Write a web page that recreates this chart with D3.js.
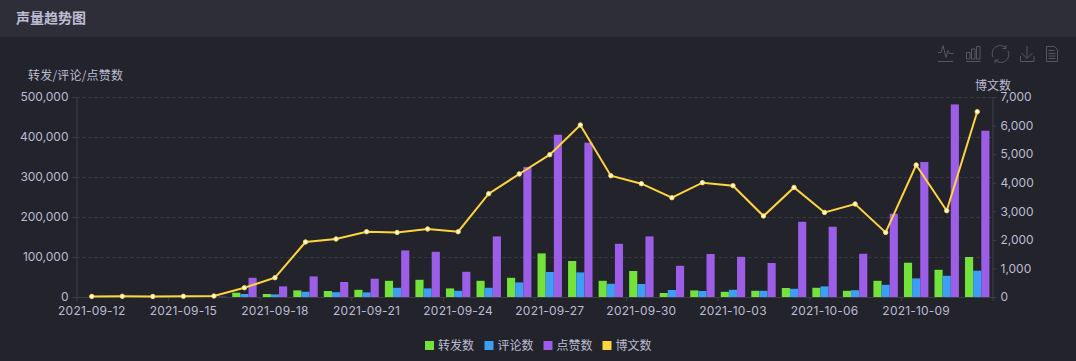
<!DOCTYPE html>
<html>
<head>
<meta charset="utf-8">
<script src="https://cdnjs.cloudflare.com/ajax/libs/d3/7.8.5/d3.min.js"></script>
<style>
html, body { margin: 0; padding: 0; background: #22232b; overflow: hidden; }
text { font-family: Inter, "Noto Sans CJK SC", sans-serif; fill: #bdbcd2; font-size: 12px; }
.cjk { font-family: "Noto Sans CJK SC", sans-serif; }
</style>
</head>
<body>
<svg id="chart" width="1076" height="361"></svg>
<script>
var days = ['2021-09-12','2021-09-13','2021-09-14','2021-09-15','2021-09-16','2021-09-17','2021-09-18','2021-09-19','2021-09-20','2021-09-21',
  '2021-09-22','2021-09-23','2021-09-24','2021-09-25','2021-09-26','2021-09-27','2021-09-28','2021-09-29','2021-09-30','2021-10-01',
  '2021-10-02','2021-10-03','2021-10-04','2021-10-05','2021-10-06','2021-10-07','2021-10-08','2021-10-09','2021-10-10','2021-10-11'];
var reposts = [0,0,0,0,300,10750,7500,16500,15000,18000,40500,43000,21500,40500,48000,109000,90000,40500,65000,10000,16500,13000,15500,22500,23000,15500,40500,85700,68000,100000];
var comments = [0,0,0,0,200,7500,6500,13000,12000,11500,23000,21500,15500,23000,36500,62500,61500,33000,32500,17500,15000,18000,15500,20500,26500,17000,30500,46500,53000,65700];
var likes = [0,0,0,0,800,48000,26500,51500,37500,45700,116500,113000,63000,151500,325000,405700,385700,133000,151500,78000,107500,100500,85000,188000,175700,108000,208000,337500,481500,415700];
var posts = [20,25,20,25,35,325,675,1925,2030,2285,2260,2380,2285,3615,4305,4980,6020,4245,3965,3475,4000,3895,2835,3835,2960,3255,2260,4620,3020,6485];
var leftTicks = [0,100000,200000,300000,400000,500000];
var rightTicks = [0,1000,2000,3000,4000,5000,6000,7000];
var seriesNames = ['转发数','评论数','点赞数','博文数'];
var seriesColors = ['#73e23a','#3c9ff5','#9c5ee6','#ffd53d'];

var left = 76.5, right = 992.5, top_ = 97, bottom = 297;
var axisColor = '#3d3e46';
var svg = d3.select('#chart');

// header bar
svg.append('rect').attr('width', 1076).attr('height', 37).attr('fill', '#2d2e37');
svg.append('text').attr('class', 'cjk').attr('x', 16).attr('y', 23)
  .style('font-size', '14px').style('font-weight', 700).text('声量趋势图');

var x = d3.scaleBand().domain(days).range([left, right]).paddingInner(0.2).paddingOuter(0.1);
var xTick = d3.scaleLinear().domain([0, days.length]).range([left, right]);
var xSeries = d3.scaleBand().domain(seriesNames.slice(0, 3)).range([0, x.bandwidth()]);
var yLeft = d3.scaleLinear().domain([0, 500000]).range([bottom, top_]);
var yRight = d3.scaleLinear().domain([0, 7000]).range([bottom, top_]);

// grid
svg.append('g').selectAll('line').data(leftTicks.slice(1)).enter().append('line')
  .attr('x1', left).attr('x2', right)
  .attr('y1', function(d){ return yLeft(d) + 0.5; })
  .attr('y2', function(d){ return yLeft(d) + 0.5; })
  .attr('stroke', '#3a3b42').attr('stroke-dasharray', '3,3');

// bars
[reposts, comments, likes].forEach(function(values, s){
  svg.append('g').selectAll('rect').data(values).enter().append('rect')
    .attr('x', function(d, i){ return x(days[i]) + xSeries(seriesNames[s]); })
    .attr('y', function(d){ return yLeft(d); })
    .attr('width', xSeries.bandwidth())
    .attr('height', function(d){ return bottom - yLeft(d); })
    .attr('fill', seriesColors[s]);
});

function styleAxis(g){
  g.selectAll('.domain').attr('stroke', axisColor);
  g.selectAll('.tick line').attr('stroke', axisColor);
}

// axes
var yAxisL = svg.append('g').attr('transform', 'translate(' + left + ',0)')
  .call(d3.axisLeft(yLeft).tickValues(leftTicks).tickSize(4).tickSizeOuter(0).tickPadding(4).tickFormat(d3.format(',')));
styleAxis(yAxisL);
var yAxisR = svg.append('g').attr('transform', 'translate(' + right + ',0)')
  .call(d3.axisRight(yRight).tickValues(rightTicks).tickSize(4).tickSizeOuter(0).tickPadding(4).tickFormat(d3.format(',')));
styleAxis(yAxisR);
var xAxisTicks = svg.append('g').attr('transform', 'translate(0,' + bottom + ')')
  .call(d3.axisBottom(xTick).tickValues(d3.range(0, days.length + 1, 3)).tickSize(4).tickSizeOuter(0).tickFormat(''));
styleAxis(xAxisTicks);
var xAxisLabels = svg.append('g').attr('transform', 'translate(0,' + bottom + ')')
  .call(d3.axisBottom(x).tickValues(days.filter(function(d, i){ return i % 3 == 0; })).tickSize(0).tickPadding(9));
xAxisLabels.select('.domain').remove();
xAxisLabels.selectAll('text').style('letter-spacing', '0.2px');
svg.selectAll('g').attr('font-family', null).attr('font-size', null);

// axis names
svg.append('text').attr('class', 'cjk').attr('x', 28).attr('y', 80).style('letter-spacing', '0.2px').text('转发/评论/点赞数');
svg.append('text').attr('class', 'cjk').attr('x', 975).attr('y', 90).text('博文数');

// line
var line = d3.line()
  .x(function(d, i){ return x(days[i]) + x.bandwidth() / 2; })
  .y(function(d){ return yRight(d); });
svg.append('path').datum(posts).attr('d', line).attr('fill', 'none')
  .attr('stroke', seriesColors[3]).attr('stroke-width', 2);
svg.append('g').selectAll('circle').data(posts).enter().append('circle')
  .attr('cx', function(d, i){ return x(days[i]) + x.bandwidth() / 2; })
  .attr('cy', function(d){ return yRight(d); })
  .attr('r', 2.2).attr('fill', '#fff').attr('stroke', seriesColors[3]).attr('stroke-width', 1);

// legend
var legendX = [425, 484.5, 543.5, 602.5];
var legend = svg.append('g').selectAll('g').data(seriesNames).enter().append('g')
  .attr('transform', function(d, i){ return 'translate(' + legendX[i] + ',341)'; });
legend.append('rect').attr('width', 9).attr('height', 9)
  .attr('fill', function(d, i){ return seriesColors[i]; });
legend.append('text').attr('class', 'cjk').attr('x', 13).attr('y', 9).text(function(d){ return d; });

// toolbox
var icons = svg.append('g').attr('fill', 'none').attr('stroke', '#555660').attr('stroke-width', 1);
icons.append('path').attr('d', 'M938 52.5h3l2 -7l3 12l2 -7l1.5 3h4M938 61.5h15');
icons.append('path').attr('d', 'M966 61.5h14.5M966.5 52.5h3.5v6.5h-3.5zM971.5 49h3.5v10h-3.5zM976.5 46.5h3.5v12.5h-3.5z');
icons.append('path').attr('d', 'M993 57a8 8 0 0 1 12.5 -9.5M1008 51a8 8 0 0 1 -12.5 9.5M1006 45v3.5h-3.5M995 63v-3h3.5');
icons.append('path').attr('d', 'M1027 46v12M1021.5 53l5.5 5.5l5.5 -5.5M1020.5 56v5.5h13.5v-5.5');
icons.append('path').attr('d', 'M1046.5 46.5h8l3 3v12h-11zM1048.5 50.5h6M1048.5 53.5h7M1048.5 56h7M1048.5 58.5h7');
</script>
</body>
</html>
